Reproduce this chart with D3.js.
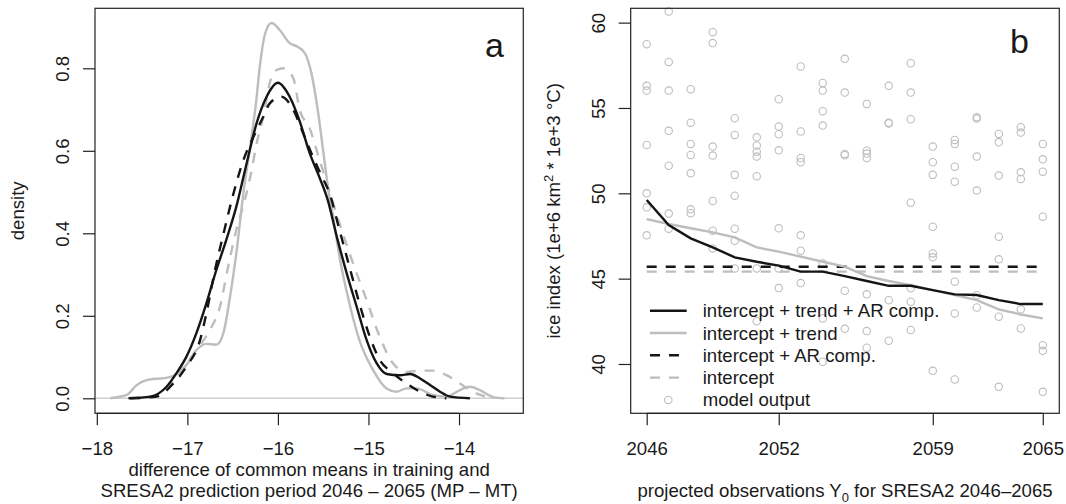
<!DOCTYPE html>
<html>
<head>
<meta charset="utf-8">
<script src="https://cdn.jsdelivr.net/npm/d3@7"></script>
<style>
  body { margin: 0; background: #fff; }
  svg text { font-family: "Liberation Sans", Arial, Helvetica, sans-serif; fill: #1a1a1a; }
</style>
</head>
<body>
<div id="chart"></div>
<script>
// ---- panel a: densities of the difference of common means (MP - MT)
const trendArX = [-17.65, -17.41, -17.23, -17.12, -17.01, -16.90, -16.79, -16.68, -16.57, -16.46, -16.345, -16.235, -16.125, -16.0, -15.87, -15.76, -15.65, -15.54, -15.45, -15.35, -15.24, -15.13, -15.02, -14.91, -14.80, -14.65, -14.54, -14.43, -14.32, -14.21, -14.10, -13.88];
const trendArY = [0, 0.004, 0.028, 0.061, 0.101, 0.158, 0.230, 0.311, 0.384, 0.464, 0.570, 0.667, 0.731, 0.765, 0.731, 0.672, 0.595, 0.535, 0.481, 0.392, 0.303, 0.222, 0.141, 0.085, 0.059, 0.056, 0.059, 0.048, 0.032, 0.016, 0.004, 0];

const trendX = [-17.85, -17.67, -17.56, -17.41, -17.265, -17.14, -17.01, -16.90, -16.79, -16.68, -16.60, -16.53, -16.46, -16.38, -16.30, -16.24, -16.20, -16.14, -16.07, -15.98, -15.87, -15.78, -15.70, -15.63, -15.56, -15.50, -15.44, -15.39, -15.32, -15.21, -15.10, -14.95, -14.80, -14.69, -14.58, -14.47, -14.29, -14.14, -13.99, -13.88, -13.77, -13.62, -13.50];
const trendY = [0, 0.008, 0.032, 0.046, 0.0485, 0.056, 0.081, 0.117, 0.132, 0.130, 0.160, 0.244, 0.35, 0.50, 0.62, 0.72, 0.804, 0.885, 0.910, 0.893, 0.861, 0.852, 0.836, 0.788, 0.699, 0.60, 0.50, 0.44, 0.343, 0.23, 0.141, 0.069, 0.024, 0.016, 0.024, 0.024, 0.008, 0.004, 0.020, 0.028, 0.020, 0.003, 0];

const arX = [-17.63, -17.34, -17.155, -17.01, -16.86, -16.79, -16.695, -16.60, -16.49, -16.38, -16.27, -16.16, -16.09, -15.96, -15.83, -15.72, -15.63, -15.52, -15.43, -15.32, -15.21, -15.10, -14.985, -14.875, -14.73, -14.58, -14.43, -14.29, -14.14];
const arY = [0, 0.004, 0.036, 0.077, 0.141, 0.206, 0.311, 0.40, 0.497, 0.578, 0.634, 0.683, 0.715, 0.731, 0.699, 0.642, 0.594, 0.54, 0.497, 0.408, 0.319, 0.230, 0.149, 0.093, 0.061, 0.036, 0.016, 0.004, 0];

const interceptX = [-17.63, -17.375, -17.19, -17.06, -16.90, -16.75, -16.64, -16.55, -16.46, -16.365, -16.29, -16.235, -16.16, -16.09, -16.015, -15.94, -15.83, -15.76, -15.65, -15.54, -15.46, -15.32, -15.17, -15.02, -14.875, -14.73, -14.58, -14.43, -14.29, -14.14, -13.99, -13.85, -13.70, -13.62];
const interceptY = [0, 0.004, 0.032, 0.069, 0.117, 0.166, 0.222, 0.319, 0.408, 0.481, 0.553, 0.618, 0.683, 0.764, 0.796, 0.80, 0.776, 0.70, 0.655, 0.578, 0.522, 0.424, 0.327, 0.238, 0.149, 0.085, 0.064, 0.067, 0.067, 0.056, 0.036, 0.016, 0.004, 0];

const densTicksX = [-18, -17, -16, -15, -14];
const densTicksY = [0, 0.2, 0.4, 0.6, 0.8];

// ---- panel b: ice index, 19 projection steps
const stepIndex = d3.range(1, 20);
const stepTicks = [1, 7, 14, 19];
const stepLabels = ["2046", "2052", "2059", "2065"];
const iceTicks = [40, 45, 50, 55, 60];

const modelOutput = [
  [58.74, 56.30, 56.02, 52.83, 50.00, 49.18, 47.54],
  [60.65, 57.70, 56.02, 53.66, 51.62, 48.81, 47.93],
  [56.10, 54.14, 52.89, 52.25, 51.17, 49.06, 48.83],
  [59.44, 58.80, 52.74, 52.21, 49.55, 47.81, 46.77],
  [54.40, 53.42, 51.08, 49.86, 47.93, 47.22, 45.60],
  [53.28, 52.80, 52.44, 52.15, 51.00, 45.60, 42.51],
  [55.51, 53.91, 53.46, 52.52, 47.95, 45.60, 44.45],
  [57.43, 53.62, 52.07, 51.82, 47.54, 46.64, 44.74],
  [56.47, 56.02, 54.81, 53.97, 45.89, 42.67, 40.13],
  [57.88, 55.90, 52.31, 52.23, 44.29, 42.06],
  [55.24, 52.50, 52.33, 52.07, 44.08, 41.93, 40.95],
  [56.30, 54.13, 54.09, 43.74, 41.36],
  [57.62, 55.90, 54.34, 49.45, 44.43, 43.65, 41.99],
  [52.74, 51.82, 51.08, 48.04, 46.48, 46.25, 39.60],
  [53.13, 52.89, 51.56, 50.68, 44.82, 42.96, 39.09],
  [54.46, 54.38, 52.15, 50.16, 44.03, 43.31],
  [53.48, 52.99, 51.04, 47.46, 46.13, 42.77, 38.66],
  [53.87, 53.56, 51.23, 50.84, 43.20, 42.08],
  [52.89, 51.99, 51.27, 48.63, 41.10, 40.77, 38.37]
];
const trendArFit = [49.61, 48.14, 47.36, 46.83, 46.25, 45.99, 45.76, 45.41, 45.41, 45.15, 44.86, 44.58, 44.58, 44.33, 44.08, 44.04, 43.74, 43.51, 43.51];
const trendFit = [48.49, 48.20, 47.95, 47.71, 47.42, 46.83, 46.58, 46.29, 45.99, 45.70, 45.15, 44.86, 44.62, 44.33, 44.04, 43.74, 43.20, 42.90, 42.67];
const arFit = 45.70;
const interceptFit = 45.41;

const legendLabels = ["intercept + trend + AR comp.", "intercept + trend", "intercept + AR comp.", "intercept", "model output"];

const black = "#151515", grey = "#bdbdbd";
const width = 1066, height = 504;
const fontSize = "18.6px";
const dashes = "10,9";

const svg = d3.select("#chart").append("svg")
    .attr("width", width)
    .attr("height", height);

// plot boxes
const boxA = {left: 95, right: 523.3, top: 8.3, bottom: 413.3};
const boxB = {left: 630.7, right: 1059.3, top: 8.3, bottom: 413.3};

const xA = d3.scaleLinear().domain([-18.02, -13.29]).range([boxA.left, boxA.right]);
const yA = d3.scaleLinear().domain([-0.0364, 0.9455]).range([boxA.bottom, boxA.top]);
const xB = d3.scaleLinear().domain([0.273, 19.75]).range([boxB.left, boxB.right]);
const yB = d3.scaleLinear().domain([37.11, 60.84]).range([boxB.bottom, boxB.top]);

const drawBox = (b) => {
  svg.append("rect")
    .attr("x", b.left).attr("y", b.top)
    .attr("width", b.right - b.left).attr("height", b.bottom - b.top)
    .attr("fill", "none").attr("stroke", "#222").attr("stroke-width", 1.2);
}

const bottomAxis = (x, b, ticks, fmt) => {
  const g = svg.append("g")
    .attr("transform", "translate(0," + b.bottom + ")")
    .call(d3.axisBottom(x).tickValues(ticks).tickFormat(fmt).tickSize(12).tickSizeOuter(0));
  g.select(".domain").remove();
  g.append("line")
    .attr("x1", x(ticks[0])).attr("x2", x(ticks[ticks.length - 1]))
    .attr("stroke", "#222").attr("stroke-width", 1.2);
  g.selectAll(".tick line").attr("stroke", "#222").attr("stroke-width", 1.2);
  g.selectAll(".tick text")
    .attr("y", 41.7).attr("dy", 0)
    .style("font-size", fontSize).attr("fill", "#1a1a1a");
}

const leftAxis = (y, b, ticks, fmt) => {
  const g = svg.append("g")
    .attr("transform", "translate(" + b.left + ",0)")
    .call(d3.axisLeft(y).tickValues(ticks).tickFormat(fmt).tickSize(12).tickSizeOuter(0));
  g.select(".domain").remove();
  g.selectAll(".tick line").attr("stroke", "#222").attr("stroke-width", 1.2);
  g.selectAll(".tick text")
    .attr("x", 0).attr("dy", 0)
    .attr("transform", "translate(-26,0) rotate(-90)")
    .attr("text-anchor", "middle")
    .style("font-size", fontSize).attr("fill", "#1a1a1a");
}

// ================= panel a =================
svg.append("line")
  .attr("x1", boxA.left).attr("x2", boxA.right)
  .attr("y1", yA(0)).attr("y2", yA(0))
  .attr("stroke", "#cfcfcf").attr("stroke-width", 1.5);

const densLine = d3.line()
  .x(d => xA(d[0]))
  .y(d => yA(d[1]))
  .curve(d3.curveMonotoneX);

const densSeries = [
  {xs: trendX, ys: trendY, color: grey, dash: null},
  {xs: interceptX, ys: interceptY, color: grey, dash: dashes},
  {xs: arX, ys: arY, color: black, dash: dashes},
  {xs: trendArX, ys: trendArY, color: black, dash: null}
];

densSeries.forEach(s => {
  svg.append("path")
    .datum(d3.zip(s.xs, s.ys))
    .attr("d", densLine)
    .attr("fill", "none")
    .attr("stroke", s.color)
    .attr("stroke-width", 2.4)
    .attr("stroke-dasharray", s.dash);
});

drawBox(boxA);
bottomAxis(xA, boxA, densTicksX, d => d3.format(".0f")(d).replace("-", "\u2212"));
leftAxis(yA, boxA, densTicksY, d3.format(".1f"));

svg.append("text")
  .attr("x", 485).attr("y", 57)
  .style("font-size", "34px")
  .text("a");

svg.append("text")
  .attr("transform", "translate(" + (boxA.left - 71) + "," + ((boxA.top + boxA.bottom) / 2) + ") rotate(-90)")
  .attr("text-anchor", "middle")
  .style("font-size", fontSize)
  .text("density");

const xlabA = svg.append("text")
  .attr("text-anchor", "middle")
  .style("font-size", fontSize);
xlabA.append("tspan")
  .attr("x", (boxA.left + boxA.right) / 2).attr("y", 476)
  .text("difference of common means in training and");
xlabA.append("tspan")
  .attr("x", (boxA.left + boxA.right) / 2).attr("y", 496.5)
  .text("SRESA2 prediction period 2046 \u2013 2065 (MP \u2013 MT)");

// ================= panel b =================
const points = [];
modelOutput.forEach((vals, i) => vals.forEach(v => points.push({step: stepIndex[i], value: v})));

svg.append("g")
  .selectAll("circle")
  .data(points)
  .enter()
  .append("circle")
    .attr("cx", d => xB(d.step))
    .attr("cy", d => yB(d.value))
    .attr("r", 3.7)
    .attr("fill", "none")
    .attr("stroke", grey)
    .attr("stroke-width", 1.1);

const fitLine = d3.line()
  .x((d, i) => xB(stepIndex[i]))
  .y(d => yB(d));

const fitSeries = [
  {vals: stepIndex.map(() => interceptFit), color: grey, dash: dashes},
  {vals: stepIndex.map(() => arFit), color: black, dash: dashes},
  {vals: trendFit, color: grey, dash: null},
  {vals: trendArFit, color: black, dash: null}
];

fitSeries.forEach(s => {
  svg.append("path")
    .datum(s.vals)
    .attr("d", fitLine)
    .attr("fill", "none")
    .attr("stroke", s.color)
    .attr("stroke-width", 2.4)
    .attr("stroke-dasharray", s.dash);
});

drawBox(boxB);
bottomAxis(xB, boxB, stepTicks, d => stepLabels[stepTicks.indexOf(d)]);
leftAxis(yB, boxB, iceTicks, d3.format("d"));

svg.append("text")
  .attr("x", 1010).attr("y", 53)
  .style("font-size", "34px")
  .text("b");

const ylabB = svg.append("text")
  .attr("transform", "translate(" + (boxB.left - 71) + "," + ((boxB.top + boxB.bottom) / 2) + ") rotate(-90)")
  .attr("text-anchor", "middle")
  .style("font-size", fontSize);
ylabB.append("tspan").text("ice index (1e+6 km");
ylabB.append("tspan").attr("dy", -7).style("font-size", "13px").text("2");
ylabB.append("tspan").attr("dy", 7).text(" * 1e+3 \u00b0C)");

const xlabB = svg.append("text")
  .attr("x", (boxB.left + boxB.right) / 2).attr("y", 496.5)
  .attr("text-anchor", "middle")
  .style("font-size", fontSize);
xlabB.append("tspan").text("projected observations Y");
xlabB.append("tspan").attr("dy", 5).style("font-size", "13px").text("0");
xlabB.append("tspan").attr("dy", -5).text(" for SRESA2 2046\u20132065");

// legend (no frame)
const legendStyles = [
  {color: black, dash: null},
  {color: grey, dash: null},
  {color: black, dash: dashes},
  {color: grey, dash: dashes},
  {color: grey, dash: "point"}
];
const legend = svg.append("g");
legendLabels.forEach((lab, i) => {
  const ly = 310.7 + i * 22.3;
  const st = legendStyles[i];
  if (st.dash === "point") {
    legend.append("circle")
      .attr("cx", 668.3).attr("cy", ly).attr("r", 3.7)
      .attr("fill", "none").attr("stroke", st.color).attr("stroke-width", 1.1);
  } else {
    legend.append("line")
      .attr("x1", 650).attr("x2", 686.7).attr("y1", ly).attr("y2", ly)
      .attr("stroke", st.color).attr("stroke-width", 2.4)
      .attr("stroke-dasharray", st.dash);
  }
  legend.append("text")
    .attr("x", 702.7).attr("y", ly + 6.5)
    .style("font-size", fontSize)
    .text(lab);
});
</script>
</body>
</html>
